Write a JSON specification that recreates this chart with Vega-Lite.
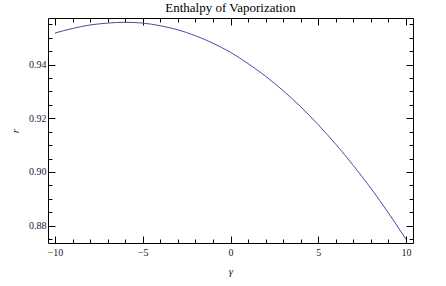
{
  "$schema": "https://vega.github.io/schema/vega-lite/v6.json",
  "width": 365,
  "height": 225,
  "autosize": {"type": "none"},
  "padding": {"left": 48, "top": 18, "right": 33, "bottom": 43},
  "background": "white",
  "config": {
    "view": {"stroke": "#000000", "strokeWidth": 1},
    "font": "Liberation Serif"
  },
  "title": {
    "text": "Enthalpy of Vaporization",
    "font": "Liberation Serif",
    "fontSize": 13,
    "fontWeight": "normal",
    "color": "#000000",
    "offset": 3,
    "anchor": "middle"
  },
  "data": {
    "values": [
      {"g": -10, "r": 0.9518},
      {"g": -9, "r": 0.9535},
      {"g": -8, "r": 0.9548},
      {"g": -7, "r": 0.9555},
      {"g": -6, "r": 0.9558},
      {"g": -5, "r": 0.9555},
      {"g": -4, "r": 0.9545},
      {"g": -3, "r": 0.9530},
      {"g": -2, "r": 0.9508},
      {"g": -1, "r": 0.9480},
      {"g": 0, "r": 0.9446},
      {"g": 1, "r": 0.9404},
      {"g": 2, "r": 0.9357},
      {"g": 3, "r": 0.9303},
      {"g": 4, "r": 0.9243},
      {"g": 5, "r": 0.9176},
      {"g": 6, "r": 0.9103},
      {"g": 7, "r": 0.9024},
      {"g": 8, "r": 0.8939},
      {"g": 9, "r": 0.8847},
      {"g": 10, "r": 0.8749}
    ]
  },
  "layer": [
    {
      "mark": {"type": "line", "color": "#4a4aaa", "strokeWidth": 1, "interpolate": "monotone", "clip": true},
      "encoding": {
        "x": {
          "field": "g", "type": "quantitative",
          "scale": {"domain": [-10.4, 10.4], "nice": false, "zero": false},
          "axis": {
            "orient": "bottom",
            "values": [-10,-9,-8,-7,-6,-5,-4,-3,-2,-1,0,1,2,3,4,5,6,7,8,9,10],
            "domain": false, "grid": false,
            "tickColor": "#000000",
            "tickSize": {"condition": {"test": "datum.value % 5 === 0", "value": -7}, "value": -4},
            "labelExpr": "datum.value % 5 === 0 ? datum.label : ''",
            "labelPadding": 11,
            "labelFont": "Liberation Serif", "labelFontSize": 10, "labelColor": "#1a1a33",
            "title": "γ", "titleFont": "Liberation Serif", "titleFontStyle": "italic",
            "titleFontWeight": "normal", "titleFontSize": 11, "titlePadding": 8, "titleColor": "#1a1a33"
          }
        },
        "y": {
          "field": "r", "type": "quantitative",
          "scale": {"domain": [0.8735, 0.9574], "nice": false, "zero": false},
          "axis": {
            "orient": "left",
            "values": [0.875,0.88,0.885,0.89,0.895,0.9,0.905,0.91,0.915,0.92,0.925,0.93,0.935,0.94,0.945,0.95,0.955],
            "domain": false, "grid": false,
            "tickColor": "#000000",
            "tickSize": {"condition": {"test": "abs(datum.value*50 - round(datum.value*50)) < 0.001", "value": -7}, "value": -4},
            "labelExpr": "abs(datum.value*50 - round(datum.value*50)) < 0.001 ? format(datum.value, '.2f') : ''",
            "labelPadding": 9,
            "labelFont": "Liberation Serif", "labelFontSize": 10, "labelColor": "#1a1a33",
            "title": "r", "titleFont": "Liberation Serif", "titleFontStyle": "italic",
            "titleFontWeight": "normal", "titleFontSize": 11, "titlePadding": 8, "titleColor": "#1a1a33"
          }
        }
      }
    },
    {
      "mark": {"type": "line", "opacity": 0},
      "encoding": {
        "x": {
          "field": "g", "type": "quantitative",
          "axis": {
            "orient": "top",
            "values": [-10,-9,-8,-7,-6,-5,-4,-3,-2,-1,0,1,2,3,4,5,6,7,8,9,10],
            "domain": false, "grid": false, "labels": false, "title": null,
            "tickColor": "#000000",
            "tickSize": {"condition": {"test": "datum.value % 5 === 0", "value": -7}, "value": -4}
          }
        },
        "y": {
          "field": "r", "type": "quantitative",
          "axis": {
            "orient": "right",
            "values": [0.875,0.88,0.885,0.89,0.895,0.9,0.905,0.91,0.915,0.92,0.925,0.93,0.935,0.94,0.945,0.95,0.955],
            "domain": false, "grid": false, "labels": false, "title": null,
            "tickColor": "#000000",
            "tickSize": {"condition": {"test": "abs(datum.value*50 - round(datum.value*50)) < 0.001", "value": -7}, "value": -4}
          }
        }
      }
    }
  ],
  "resolve": {"axis": {"x": "independent", "y": "independent"}}
}
